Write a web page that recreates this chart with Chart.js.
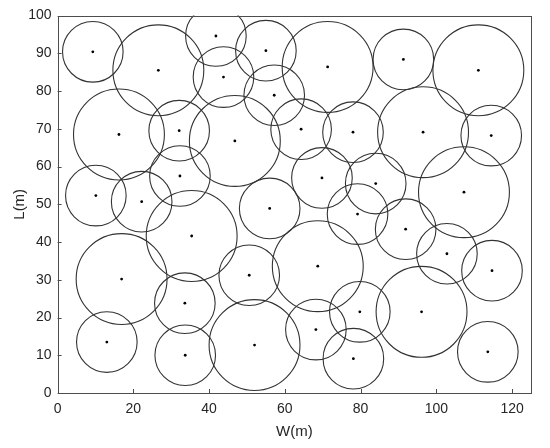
<!DOCTYPE html>
<html>
<head>
<meta charset="utf-8">
<script src="https://cdn.jsdelivr.net/npm/chart.js@4.4.0/dist/chart.umd.min.js"></script>
<style>
  html, body { margin: 0; padding: 0; background: #fff; }
  #wrap { width: 550px; height: 448px; }
</style>
</head>
<body>
<div id="wrap"><canvas id="chart"></canvas></div>
<script>
// circle centres (m) and radii (m)
var centerW = [9.3, 26.6, 16.2, 32.1, 32.3, 10.1, 22.2, 41.8, 55.0, 43.8,
               57.2, 71.3, 64.3, 46.8, 78.0, 69.8, 91.3, 111.1, 96.5, 114.5,
               84.0, 107.3, 79.2, 91.9, 102.8, 114.7, 96.1, 79.8, 78.1, 113.6,
               56.0, 68.7, 50.6, 52.0, 68.2, 35.4, 16.9, 33.6, 13.0, 33.7];
var centerL = [90.4, 85.5, 68.5, 69.5, 57.5, 52.3, 50.7, 94.6, 90.7, 83.7,
               78.9, 86.4, 69.9, 66.8, 69.1, 57.0, 88.4, 85.5, 69.1, 68.2,
               55.5, 53.2, 47.4, 43.4, 36.9, 32.4, 21.5, 21.5, 9.1, 10.9,
               48.9, 33.6, 31.2, 12.7, 16.8, 41.6, 30.2, 23.8, 13.5, 10.0];
var radius = [8, 12, 12, 8, 8, 8, 8, 8, 8, 8,
              8, 12, 8, 12, 8, 8, 8, 12, 12, 8,
              8, 12, 8, 8, 8, 8, 12, 8, 8, 8,
              8, 12, 8, 12, 8, 12, 12, 8, 8, 8];
var xTicks = [0, 20, 40, 60, 80, 100, 120];
var yTicks = [0, 10, 20, 30, 40, 50, 60, 70, 80, 90, 100];

var points = centerW.map(function (w, i) { return {x: w, y: centerL[i]}; });

// box round the plot and short inward ticks, like the original
var boxPlugin = {
    id: 'box',
    afterDatasetsDraw: function (chart) {
        var a = chart.chartArea, ctx = chart.ctx;
        var xs = chart.scales.x, ys = chart.scales.y;
        ctx.save();
        ctx.strokeStyle = '#4d4d4d';
        ctx.lineWidth = 1;
        ctx.strokeRect(Math.round(a.left) + 0.5, Math.round(a.top) + 0.5,
                       Math.round(a.right - a.left), Math.round(a.bottom - a.top));
        ctx.beginPath();
        xTicks.forEach(function (v) {
            var px = Math.round(xs.getPixelForValue(v)) + 0.5;
            ctx.moveTo(px, a.bottom);
            ctx.lineTo(px, a.bottom - 4);
        });
        yTicks.forEach(function (v) {
            var py = Math.round(ys.getPixelForValue(v)) + 0.5;
            ctx.moveTo(a.left, py);
            ctx.lineTo(a.left + 4, py);
        });
        ctx.stroke();
        ctx.restore();
    }
};

var font = {family: "'Liberation Sans', Arial, sans-serif", size: 14};

new Chart(document.getElementById('chart'), {
    type: 'scatter',
    data: {
        datasets: [{
            label: 'circles',
            data: points,
            clip: 0,
            pointRadius: function (c) {
                var xs = c.chart.scales.x;
                return Math.abs(xs.getPixelForValue(radius[c.dataIndex]) - xs.getPixelForValue(0));
            },
            pointBackgroundColor: 'rgba(0,0,0,0)',
            pointBorderColor: '#333333',
            pointBorderWidth: 1.1
        }, {
            label: 'centres',
            data: points,
            pointRadius: 1.4,
            pointBackgroundColor: '#000',
            pointBorderWidth: 0
        }]
    },
    options: {
        responsive: true,
        maintainAspectRatio: false,
        animation: false,
        events: [],
        layout: {padding: {left: 0, right: 19, top: 15.6, bottom: 0}},
        plugins: {
            legend: {display: false},
            tooltip: {enabled: false}
        },
        scales: {
            x: {
                type: 'linear',
                min: 0,
                max: 125,
                grid: {display: false, drawTicks: false},
                border: {display: false},
                ticks: {
                    stepSize: 20,
                    includeBounds: false,
                    autoSkip: false,
                    padding: 8,
                    color: '#262626',
                    font: font,
                    maxRotation: 0
                },
                title: {display: true, text: 'W(m)', color: '#262626',
                        font: {family: font.family, size: 15}, padding: {top: 0, bottom: 7}},
                afterFit: function (s) { s.height = 55; }
            },
            y: {
                type: 'linear',
                min: 0,
                max: 100,
                grid: {display: false, drawTicks: false},
                border: {display: false},
                ticks: {stepSize: 10, padding: 6, color: '#262626', font: font},
                title: {display: true, text: 'L(m)', color: '#262626',
                        font: {family: font.family, size: 15}, padding: {top: 11, bottom: 0}},
                afterFit: function (s) { s.width = 57.6; }
            }
        }
    },
    plugins: [boxPlugin]
});
</script>
</body>
</html>
